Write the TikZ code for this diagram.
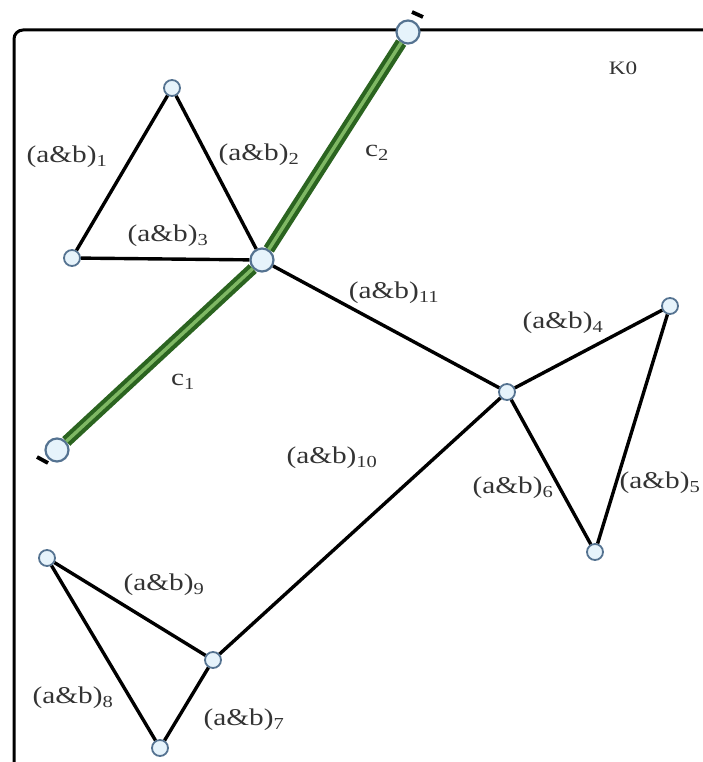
\documentclass[tikz,border=0pt]{standalone}
\usepackage{fontspec}
\setmainfont{Liberation Serif}[FakeStretch=1.22]
\usetikzlibrary{positioning,calc}
\definecolor{vertborde}{HTML}{557391}
\definecolor{vertrelleno}{HTML}{E6F3FB}
\definecolor{verdeosc}{HTML}{2B6420}
\definecolor{verdeclaro}{HTML}{7FB864}
\definecolor{texto}{HTML}{333333}
\newcommand{\ab}[1]{(a\&b)\textsubscript{#1}}
\begin{document}
\begin{tikzpicture}[x=1pt, y=-1pt,
  font=\fontsize{24}{26}\selectfont,
  vert/.style={circle, draw=vertborde, fill=vertrelleno, line width=1.8pt,
    inner sep=0pt, minimum size=16pt},
  vertg/.style={vert, minimum size=23pt, line width=2.2pt},
  arista/.style={line width=3.4pt, black},
  cadena/.style={line width=4.2pt, draw=verdeosc, double=verdeclaro,
    double distance=3.4pt},
  marca/.style={line width=3.8pt, black},
  etiq/.style={text=texto, inner sep=1pt}]
\useasboundingbox (0,0) rectangle (703,762);
% Marco
\draw[line width=3pt, rounded corners=9pt] (14,762) -- (14,30) -- (703,30);
\node[etiq, font=\fontsize{19}{21}\selectfont] (k0) at (623,68) {K0};
% Vertices
\node[vertg] (g2) at (408,32) {};
\node[vertg] (g1) at (57,450) {};
\node[vertg] (h) at (262,260) {};
\node[vert] (t1) at (172,88) {};
\node[vert] (t2) at (72,258) {};
\node[vert] (m) at (507,392) {};
\node[vert] (r1) at (670,306) {};
\node[vert] (r2) at (595,552) {};
\node[vert] (b1) at (47,558) {};
\node[vert] (b2) at (213,660) {};
\node[vert] (b3) at (160,748) {};
% Cadenas verdes
\draw[cadena] (h) -- (g2);
\draw[cadena] (h) -- (g1);
\coordinate (mg2a) at (412,12);
\coordinate (mg2b) at (423,17);
\coordinate (mg1a) at (37,457);
\coordinate (mg1b) at (48,463);
\draw[marca] (mg2a) -- (mg2b);
\draw[marca] (mg1a) -- (mg1b);
% Aristas
\draw[arista] (t1) -- (t2);
\draw[arista] (t1) -- (h);
\draw[arista] (t2) -- (h);
\draw[arista] (h) -- (m);
\draw[arista] (m) -- (r1);
\draw[arista] (r1) -- (r2);
\draw[arista] (m) -- (r2);
\draw[arista] (m) -- (b2);
\draw[arista] (b1) -- (b2);
\draw[arista] (b1) -- (b3);
\draw[arista] (b2) -- (b3);
% Etiquetas
\node[etiq] (l1) at (67,157) {\ab{1}};
\node[etiq] (l2) at (259,155) {\ab{2}};
\node[etiq] (l3) at (168,236) {\ab{3}};
\node[etiq] (lc2) at (377,153) {c\textsubscript{2}};
\node[etiq] (lc1) at (183,382) {c\textsubscript{1}};
\node[etiq] (l11) at (394,293) {\ab{11}};
\node[etiq] (l4) at (563,323) {\ab{4}};
\node[etiq] (l10) at (332,458) {\ab{10}};
\node[etiq] (l6) at (513,488) {\ab{6}};
\node[etiq] (l5) at (660,483) {\ab{5}};
\node[etiq] (l9) at (164,585) {\ab{9}};
\node[etiq] (l8) at (73,698) {\ab{8}};
\node[etiq] (l7) at (244,720) {\ab{7}};
\end{tikzpicture}
\end{document}
